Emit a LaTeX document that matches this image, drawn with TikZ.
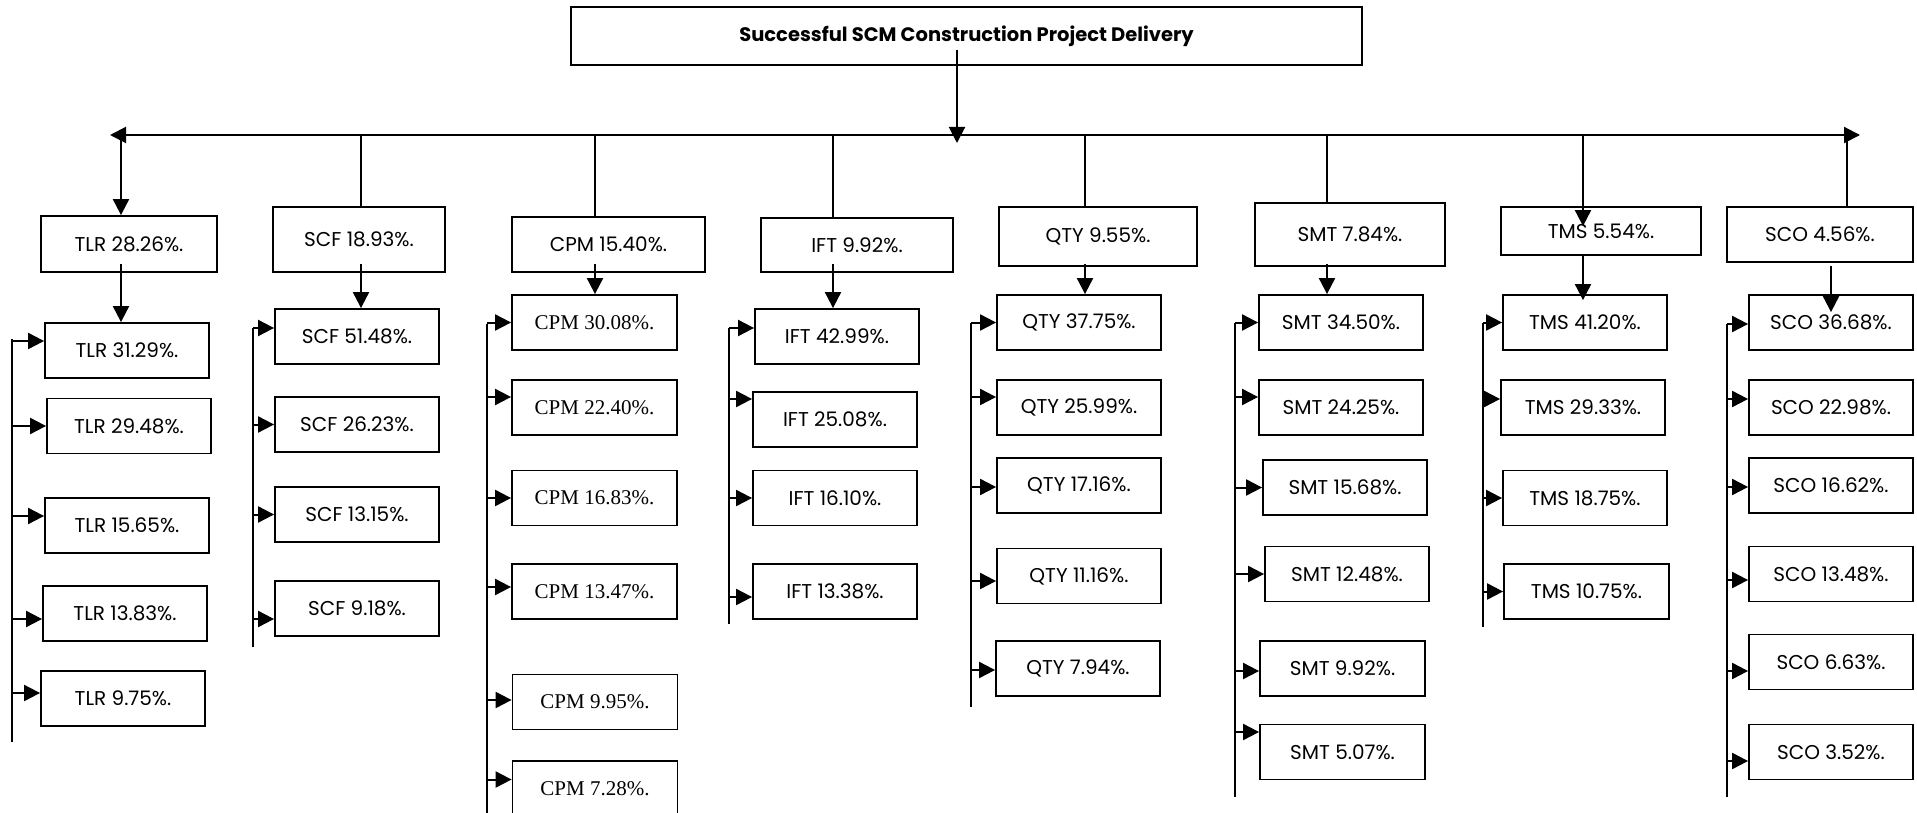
\documentclass[tikz,border=0pt]{standalone}
\usepackage{fontspec}
\usetikzlibrary{calc}
\usetikzlibrary{arrows.meta}
\newfontfamily\gothic{Poppins}
\newfontfamily\romanf{Liberation Serif}
\tikzset{
    subbox/.style={draw,line width=1.8pt,inner sep=0pt,minimum width=164pt,minimum height=55pt,font=\gothic\fontsize{20}{24}\selectfont},
    headbox/.style={subbox},
    timesbox/.style={subbox,minimum width=165pt,font=\romanf\fontsize{21}{25}\selectfont},
    wire/.style={line width=2pt},
    arr/.style={line width=2pt,-{Triangle[length=16pt,width=16pt]}},
}
\newcommand{\feedbox}[3]{\draw[arr] ([yshift=#3pt]#2.west -| #1) -- ([yshift=#3pt]#2.west);}
\begin{document}
\begin{tikzpicture}[x=1pt,y=-1pt]
                \useasboundingbox (0,0) rectangle (1917,813);

                \node[draw,line width=1.8pt,minimum width=791pt,minimum height=58pt,font=\gothic\bfseries\fontsize{19.5}{23}\selectfont] (title) at (966.5,36) {Successful SCM Construction Project Delivery};

                \coordinate (hub) at (957,135);
                \coordinate (busl) at (110,135);
                \coordinate (busr) at (1860,135);
                \coordinate (tlrbus) at (121,135);
                \coordinate (scfbus) at (361,135);
                \coordinate (cpmbus) at (595,135);
                \coordinate (iftbus) at (833,135);
                \coordinate (qtybus) at (1085,135);
                \coordinate (smtbus) at (1327,135);
                \coordinate (tmsbus) at (1583,135);
                \coordinate (scobus) at (1847,135);

                \node[headbox,minimum width=176pt,minimum height=56pt] (tlr) at (129,244) {TLR 28.26\%.};
                \node[headbox,minimum width=172pt,minimum height=65pt] (scf) at (359,239.5) {SCF 18.93\%.};
                \node[headbox,minimum width=193pt] (cpm) at (608.5,244.5) {CPM 15.40\%.};
                \node[headbox,minimum width=192pt,minimum height=54pt] (ift) at (857,245) {IFT 9.92\%.};
                \node[headbox,minimum width=198pt,minimum height=59pt] (qty) at (1098,236.5) {QTY 9.55\%.};
                \node[headbox,minimum width=190pt,minimum height=63pt] (smt) at (1350,234.5) {SMT 7.84\%.};
                \node[headbox,minimum width=200pt,minimum height=48pt] (tms) at (1601,231) {TMS 5.54\%.};
                \node[headbox,minimum width=186pt] (sco) at (1820,234.5) {SCO 4.56\%.};

                \node[subbox] (tlra) at (127,350.5) {TLR 31.29\%.};
                \node[subbox] (tlrb) at (129,426) {TLR 29.48\%.};
                \node[subbox] (tlrc) at (127,525.5) {TLR 15.65\%.};
                \node[subbox] (tlrd) at (125,613.5) {TLR 13.83\%.};
                \node[subbox] (tlre) at (123,698.5) {TLR 9.75\%.};

                \node[subbox] (scfa) at (357,336.5) {SCF 51.48\%.};
                \node[subbox] (scfb) at (357,424.5) {SCF 26.23\%.};
                \node[subbox] (scfc) at (357,514.5) {SCF 13.15\%.};
                \node[subbox] (scfd) at (357,608.5) {SCF 9.18\%.};

                \node[timesbox] (cpma) at (594.5,322.5) {CPM 30.08\%.};
                \node[timesbox] (cpmb) at (594.5,407.5) {CPM 22.40\%.};
                \node[timesbox] (cpmc) at (594.5,498) {CPM 16.83\%.};
                \node[timesbox] (cpmd) at (594.5,591.5) {CPM 13.47\%.};
                \node[timesbox] (cpme) at (595,702) {CPM 9.95\%.};
                \node[timesbox] (cpmf) at (595,788.5) {CPM 7.28\%.};

                \node[subbox] (ifta) at (837,336.5) {IFT 42.99\%.};
                \node[subbox] (iftb) at (835,419.5) {IFT 25.08\%.};
                \node[subbox] (iftc) at (835,498) {IFT 16.10\%.};
                \node[subbox] (iftd) at (835,591.5) {IFT 13.38\%.};

                \node[subbox] (qtya) at (1079,322.5) {QTY 37.75\%.};
                \node[subbox] (qtyb) at (1079,407.5) {QTY 25.99\%.};
                \node[subbox] (qtyc) at (1079,485.5) {QTY 17.16\%.};
                \node[subbox] (qtyd) at (1079,576) {QTY 11.16\%.};
                \node[subbox] (qtye) at (1078,668.5) {QTY 7.94\%.};

                \node[subbox] (smta) at (1341,322.5) {SMT 34.50\%.};
                \node[subbox] (smtb) at (1341,407.5) {SMT 24.25\%.};
                \node[subbox] (smtc) at (1345,487.5) {SMT 15.68\%.};
                \node[subbox] (smtd) at (1347,574) {SMT 12.48\%.};
                \node[subbox,minimum width=165pt] (smte) at (1342.5,668.5) {SMT 9.92\%.};
                \node[subbox,minimum width=165pt] (smtf) at (1342.5,752) {SMT 5.07\%.};

                \node[subbox] (tmsa) at (1585,322.5) {TMS 41.20\%.};
                \node[subbox] (tmsb) at (1583,407.5) {TMS 29.33\%.};
                \node[subbox] (tmsc) at (1585,498) {TMS 18.75\%.};
                \node[subbox,minimum width=165pt] (tmsd) at (1586.5,591.5) {TMS 10.75\%.};

                \node[subbox] (scoa) at (1831,322.5) {SCO 36.68\%.};
                \node[subbox] (scob) at (1831,407.5) {SCO 22.98\%.};
                \node[subbox] (scoc) at (1831,485.5) {SCO 16.62\%.};
                \node[subbox] (scod) at (1831,574) {SCO 13.48\%.};
                \node[subbox] (scoe) at (1831,662) {SCO 6.63\%.};
                \node[subbox] (scof) at (1831,752) {SCO 3.52\%.};

                \draw[arr] ([yshift=16pt]hub |- title.south) -- ([yshift=-8pt]hub);
                \draw[arr] (hub) -- (busl);
                \draw[arr] (hub) -- (busr);

                \draw[arr] (tlrbus) -- (tlrbus |- tlr.north);
                \draw[wire] (scfbus) -- (scfbus |- scf.north);
                \draw[wire] (cpmbus) -- (cpmbus |- cpm.north);
                \draw[wire] (iftbus) -- (iftbus |- ift.north);
                \draw[wire] (qtybus) -- (qtybus |- qty.north);
                \draw[wire] (smtbus) -- (smtbus |- smt.north);
                \draw[arr] (tmsbus) -- ([yshift=-20pt]tmsbus |- tms.north);
                \draw[wire] (scobus) -- (scobus |- sco.north);

                \draw[arr] ([yshift=9pt]tlrbus |- tlr.south) -- (tlrbus |- tlra.north);
                \draw[arr] ([yshift=9pt]scfbus |- scf.south) -- (scfbus |- scfa.north);
                \draw[arr] ([yshift=9pt]cpmbus |- cpm.south) -- (cpmbus |- cpma.north);
                \draw[arr] ([yshift=9pt]iftbus |- ift.south) -- (iftbus |- ifta.north);
                \draw[arr] ([yshift=3pt]qtybus |- qty.south) -- (qtybus |- qtya.north);
                \draw[arr] ([yshift=3pt]smtbus |- smt.south) -- (smtbus |- smta.north);
                \draw[arr] (tmsbus |- tms.south) -- ([yshift=-6pt]tmsbus |- tmsa.north);
                \draw[arr] ([yshift=-3pt]sco.south -| scoa.north) -- ([yshift=-18pt]scoa.north);

                \coordinate (tlrtop) at (12,339);
                \coordinate (tlrbot) at (12,742);
                \coordinate (scftop) at (253,328);
                \coordinate (scfbot) at (253,647);
                \coordinate (cpmtop) at (487,324);
                \coordinate (cpmbot) at (487,815);
                \coordinate (ifttop) at (729,328);
                \coordinate (iftbot) at (729,624);
                \coordinate (qtytop) at (971,323);
                \coordinate (qtybot) at (971,707);
                \coordinate (smttop) at (1235,323);
                \coordinate (smtbot) at (1235,797);
                \coordinate (tmstop) at (1483,323);
                \coordinate (tmsbot) at (1483,627);
                \coordinate (scotop) at (1727,324);
                \coordinate (scobot) at (1727,797);

                \draw[wire] (tlrtop) -- (tlrbot);
                \draw[wire] (scftop) -- (scfbot);
                \draw[wire] (cpmtop) -- (cpmbot);
                \draw[wire] (ifttop) -- (iftbot);
                \draw[wire] (qtytop) -- (qtybot);
                \draw[wire] (smttop) -- (smtbot);
                \draw[wire] (tmstop) -- (tmsbot);
                \draw[wire] (scotop) -- (scobot);

                \feedbox{tlrtop}{tlra}{9.5}
                \feedbox{tlrtop}{tlrb}{0}
                \feedbox{tlrtop}{tlrc}{9.5}
                \feedbox{tlrtop}{tlrd}{-5.5}
                \feedbox{tlrtop}{tlre}{5.5}

                \feedbox{scftop}{scfa}{8.5}
                \feedbox{scftop}{scfb}{0}
                \feedbox{scftop}{scfc}{0}
                \feedbox{scftop}{scfd}{-10.5}

                \feedbox{cpmtop}{cpma}{0}
                \feedbox{cpmtop}{cpmb}{10.5}
                \feedbox{cpmtop}{cpmc}{0}
                \feedbox{cpmtop}{cpmd}{4.5}
                \feedbox{cpmtop}{cpme}{2}
                \feedbox{cpmtop}{cpmf}{9}

                \feedbox{ifttop}{ifta}{8.5}
                \feedbox{ifttop}{iftb}{20.5}
                \feedbox{ifttop}{iftc}{0}
                \feedbox{ifttop}{iftd}{-5.5}

                \feedbox{qtytop}{qtya}{0}
                \feedbox{qtytop}{qtyb}{10.5}
                \feedbox{qtytop}{qtyc}{-1.5}
                \feedbox{qtytop}{qtyd}{-5}
                \feedbox{qtytop}{qtye}{-1.5}

                \feedbox{smttop}{smta}{0}
                \feedbox{smttop}{smtb}{10.5}
                \feedbox{smttop}{smtc}{0}
                \feedbox{smttop}{smtd}{0}
                \feedbox{smttop}{smte}{-2.5}
                \feedbox{smttop}{smtf}{20}

                \feedbox{tmstop}{tmsa}{0}
                \feedbox{tmstop}{tmsb}{8.5}
                \feedbox{tmstop}{tmsc}{0}
                \feedbox{tmstop}{tmsd}{0}

                \feedbox{scotop}{scoa}{-1.5}
                \feedbox{scotop}{scob}{8.5}
                \feedbox{scotop}{scoc}{-1.5}
                \feedbox{scotop}{scod}{-6}
                \feedbox{scotop}{scoe}{-9}
                \feedbox{scotop}{scof}{-9}
            \end{tikzpicture}
\end{document}
